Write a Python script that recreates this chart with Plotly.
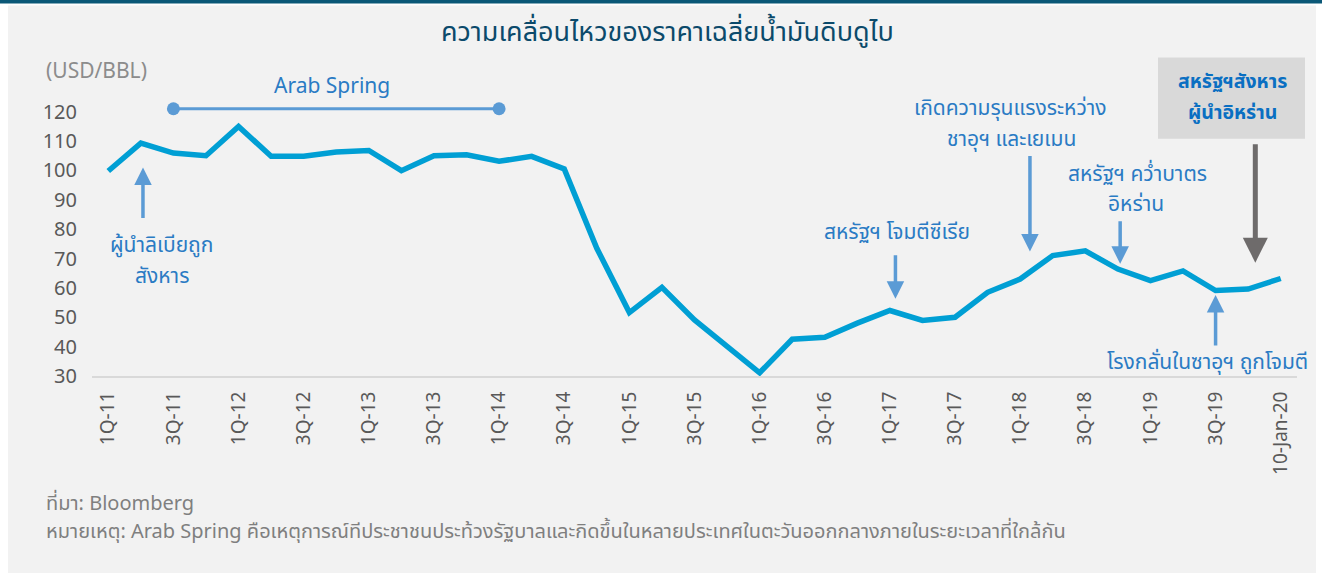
import plotly.graph_objects as go

# ---------------- data ----------------
categories = [
    "1Q-11", "2Q-11", "3Q-11", "4Q-11",
    "1Q-12", "2Q-12", "3Q-12", "4Q-12",
    "1Q-13", "2Q-13", "3Q-13", "4Q-13",
    "1Q-14", "2Q-14", "3Q-14", "4Q-14",
    "1Q-15", "2Q-15", "3Q-15", "4Q-15",
    "1Q-16", "2Q-16", "3Q-16", "4Q-16",
    "1Q-17", "2Q-17", "3Q-17", "4Q-17",
    "1Q-18", "2Q-18", "3Q-18", "4Q-18",
    "1Q-19", "2Q-19", "3Q-19", "4Q-19",
    "10-Jan-20",
]
dubai_price = [
    99.8, 109.3, 105.9, 105.0,
    115.0, 104.8, 104.8, 106.3,
    106.8, 99.9, 105.0, 105.3,
    103.1, 104.8, 100.5, 73.5,
    51.6, 60.2, 49.1, 40.0,
    31.1, 42.5, 43.2, 48.0,
    52.3, 48.9, 50.0, 58.5,
    63.0, 71.0, 72.6, 66.4,
    62.5, 65.8, 59.1, 59.6,
    63.2,
]
tick_labels = categories[::2]
y_ticks = [30, 40, 50, 60, 70, 80, 90, 100, 110, 120]

arab_spring_x = ["3Q-11", "1Q-14"]
arab_spring_y = [121, 121]

title_text = "ความเคลื่อนไหวของราคาเฉลี่ยน้ำมันดิบดูไบ"
unit_text = "(USD/BBL)"
source_text = "ที่มา: Bloomberg"
note_text = ("หมายเหตุ: Arab Spring คือเหตุการณ์ทีประชาชนประท้วงรัฐบาลและกิดขึ้น"
             "ในหลายประเทศในตะวันออกกลางภายในระยะเวลาที่ใกล้กัน")

# ---------------- layout helpers ----------------
W, H = 1322, 573
PL, PR, PT, PB = 92, 1297, 97.33, 376  # plot area in pixels


def px_x(px):
    return (px - PL) / (PR - PL)


def px_y(py):
    return (PB - py) / (PB - PT)


FONT = "Noto Sans Thai, Noto Sans, Roboto, sans-serif"
LINE_C = "#009FD4"
ARROW_C = "#5B9BD5"
ANN_C = "#2A7BC4"
GREY_TXT = "#595959"

fig = go.Figure()

fig.add_trace(go.Scatter(
    x=categories, y=dubai_price, mode="lines",
    line=dict(color=LINE_C, width=5.5), cliponaxis=False,
    hoverinfo="x+y", showlegend=False,
))

fig.add_trace(go.Scatter(
    x=arab_spring_x, y=arab_spring_y, mode="lines+markers",
    line=dict(color=ARROW_C, width=3),
    marker=dict(color=ARROW_C, size=13),
    cliponaxis=False, showlegend=False, hoverinfo="skip",
))

shapes = [
    dict(type="rect", xref="paper", yref="paper", layer="below",
         x0=px_x(8), x1=px_x(1316), y0=px_y(574), y1=px_y(6),
         fillcolor="#F2F2F2", line=dict(width=0)),
    dict(type="rect", xref="paper", yref="paper", layer="below",
         x0=px_x(-2), x1=px_x(1324), y0=px_y(4), y1=px_y(-2),
         fillcolor="#0B5877", line=dict(width=0)),
    dict(type="rect", xref="paper", yref="paper", layer="below",
         x0=px_x(1158), x1=px_x(1305), y0=px_y(139), y1=px_y(58),
         fillcolor="#D9D9D9", line=dict(width=0)),
]

annotations = []


def txt(px, py, text, size=21, color=ANN_C, bold=False, xanchor="center"):
    if bold:
        text = "<b>" + text + "</b>"
    annotations.append(dict(
        x=px_x(px), y=px_y(py), xref="paper", yref="paper", text=text,
        showarrow=False, font=dict(family=FONT, size=size, color=color),
        xanchor=xanchor, yanchor="middle", align="center", borderpad=0,
    ))


def arrow(x, y, ay, color=ARROW_C, width=3.5, size=1.0):
    annotations.append(dict(
        x=x, y=y, xref="x", yref="y", ax=0, ay=ay, text="",
        showarrow=True, arrowhead=2, arrowsize=size, arrowwidth=width,
        arrowcolor=color, standoff=0, startstandoff=0,
    ))


# event texts (one annotation per line)
txt(161.7, 246, "ผู้นำลิเบียถูก")
txt(161.7, 277, "สังหาร")
txt(332, 87, "Arab Spring")
txt(896.7, 233, "สหรัฐฯ โจมตีซีเรีย")
txt(1010, 109, "เกิดความรุนแรงระหว่าง")
txt(1011, 140, "ชาอุฯ และเยเมน")
txt(1137, 175, "สหรัฐฯ คว่ำบาตร")
txt(1136, 205, "อิหร่าน")
txt(1207, 363, "โรงกลั่นในซาอุฯ ถูกโจมตี")
txt(1232, 82, "สหรัฐฯสังหาร", size=19.5, color="#0A6FC2", bold=True)
txt(1232, 113, "ผู้นำอิหร่าน", size=19.5, color="#0A6FC2", bold=True)

# arrows (tip position, pixel offset to tail)
arrow(1.065, 101.0, 52)
arrow(24.17, 56.3, -45)
arrow(28.3, 72.4, -97)
arrow(31.07, 68.2, -44)
arrow(34.0, 57.6, 52)
arrow(35.22, 68.6, -120, color="#6E6B6B", width=5)

# title, units, footnotes
txt(667, 33, title_text, size=27, color="#0B4A6B")
txt(45, 72, unit_text, size=21, color="#8C8C8C", xanchor="left")
txt(45, 504, source_text, size=20, color="#7F7F7F", xanchor="left")
txt(45, 532, note_text, size=20, color="#7F7F7F", xanchor="left")

fig.update_layout(
    width=W, height=H,
    margin=dict(l=PL, r=W - PR, t=PT, b=H - PB, pad=0),
    paper_bgcolor="white", plot_bgcolor="rgba(0,0,0,0)",
    shapes=shapes, annotations=annotations,
    showlegend=False,
    font=dict(family=FONT, color=GREY_TXT),
)
fig.update_xaxes(
    type="category", categoryorder="array", categoryarray=categories,
    range=[-0.5, len(categories) - 0.5],
    tickmode="array", tickvals=tick_labels, ticktext=tick_labels,
    tickangle=-90, tickfont=dict(size=19, color=GREY_TXT, family=FONT),
    showgrid=False, zeroline=False, showline=True, linecolor="#D9D9D9", linewidth=2,
    ticks="", ticklabelstandoff=6,
)
fig.update_yaxes(
    range=[30, 125], tickmode="array", tickvals=y_ticks,
    tickfont=dict(size=20, color=GREY_TXT, family=FONT),
    showgrid=False, zeroline=False, showline=False, ticks="",
    ticklabelstandoff=14,
)

fig.write_html("out.html")
